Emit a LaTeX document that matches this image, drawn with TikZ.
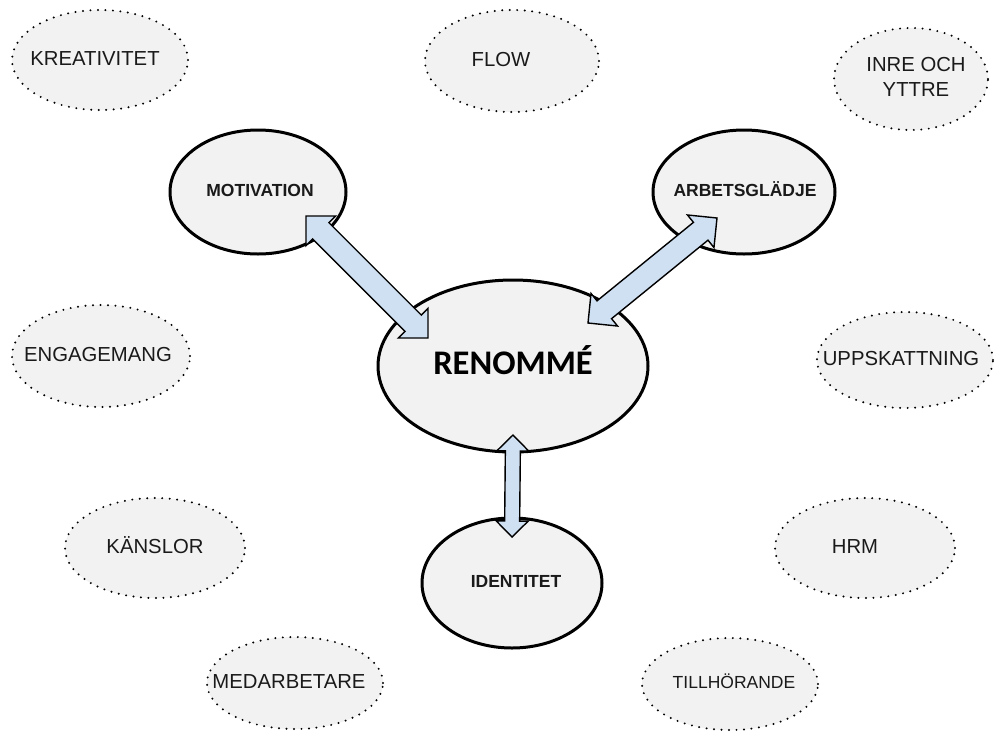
\documentclass[tikz,border=0pt]{standalone}
\usepackage{fontspec}
\setmainfont{Liberation Sans}
\newfontfamily\calfont{Carlito}
\usetikzlibrary{shapes.geometric,calc}
\definecolor{ellfill}{HTML}{F2F2F2}
\definecolor{arrfill}{HTML}{D0E0F3}
\definecolor{txt}{HTML}{1A1A1A}
% zero-width centred text box, optionally shifted horizontally by #1
\newcommand{\ct}[2][0pt]{\makebox[0pt][c]{\hspace*{#1}\hspace*{#1}\begin{tabular}{@{}c@{}}#2\end{tabular}}}
\tikzset{
  outer/.style={ellipse, draw=black, line width=2.2pt, dash pattern=on 0pt off 7.5pt, line cap=round,
    fill=ellfill, inner sep=0pt, font=\fontsize{20.3}{25}\selectfont, text=txt},
  inner/.style={ellipse, draw=black, line width=3pt, fill=ellfill, inner sep=0pt,
    font=\bfseries\fontsize{17.5}{20}\selectfont, text=txt},
  blockarrow/.style={draw=black, line width=1.4pt, fill=arrfill, line join=miter}
}
\newcommand{\blkarrow}[5]{%
  \coordinate (ha) at ($(#1)!#5!(#2)$);
  \coordinate (hb) at ($(#2)!#5!(#1)$);
  \draw[blockarrow] (#1) -- ($(ha)!#4!90:(#1)$) -- ($(ha)!#3!90:(#1)$)
    -- ($(hb)!#3!-90:(#2)$) -- ($(hb)!#4!-90:(#2)$) -- (#2)
    -- ($(hb)!#4!90:(#2)$) -- ($(hb)!#3!90:(#2)$)
    -- ($(ha)!#3!-90:(#1)$) -- ($(ha)!#4!-90:(#1)$) -- cycle;
}
\begin{document}
\begin{tikzpicture}[x=1pt,y=-1pt]
\useasboundingbox[fill=white] (0,0) rectangle (1002,740);
% outer dotted ellipses
\node[outer, minimum width=176pt, minimum height=100pt] (kre) at (100,60) {\ct[-5pt]{KREATIVITET}};
\node[outer, minimum width=174pt, minimum height=102pt] (flow) at (512,61) {\ct[-11pt]{FLOW}};
\node[outer, minimum width=154pt, minimum height=102pt] (inre) at (911,79) {\ct[5pt]{INRE OCH\\YTTRE}};
\node[outer, minimum width=178pt, minimum height=102pt] (eng) at (101,356) {\ct[-3pt]{ENGAGEMANG}};
\node[outer, minimum width=176pt, minimum height=96pt] (upp) at (905,360) {\ct[-4pt]{UPPSKATTNING}};
\node[outer, minimum width=180pt, minimum height=100pt] (kans) at (155,548) {\ct{KÄNSLOR}};
\node[outer, minimum width=180pt, minimum height=100pt] (hrm) at (865,548) {\ct[-10pt]{HRM}};
\node[outer, minimum width=176pt, minimum height=92pt] (med) at (295,683) {\ct[-6pt]{MEDARBETARE}};
\node[outer, minimum width=176pt, minimum height=92pt, font=\fontsize{17.5}{20}\selectfont] (till) at (730,684) {\ct[4pt]{TILLHÖRANDE}};
% inner solid ellipses
\node[inner, minimum width=176pt, minimum height=124pt] (mot) at (258,192) {\ct[2pt]{MOTIVATION}};
\node[inner, minimum width=182pt, minimum height=124pt] (arb) at (744,192) {\ct[1pt]{ARBETSGLÄDJE}};
\node[inner, minimum width=180pt, minimum height=130pt] (ide) at (512,583) {\ct[4pt]{IDENTITET}};
\node[inner, minimum width=270pt, minimum height=172pt, font=\calfont\bfseries\fontsize{34.5}{40}\selectfont, text=black] (ren) at (513,366) {\ct{RENOMMÉ}};
% arrow end points
\coordinate (m1) at ($(mot)+(48,24)$);
\coordinate (r1) at ($(ren)+(-85,-28)$);
\coordinate (a1) at ($(arb)+(-27,26)$);
\coordinate (r2) at ($(ren)+(75,-43)$);
\coordinate (r3) at ($(ren)+(0,69)$);
\coordinate (i1) at ($(ide)+(0,-46)$);
% block arrows
\blkarrow{m1}{r1}{11.5pt}{21pt}{21pt}
\blkarrow{a1}{r2}{11.5pt}{21pt}{21pt}
\blkarrow{r3}{i1}{7.5pt}{16pt}{16pt}
\end{tikzpicture}
\end{document}
